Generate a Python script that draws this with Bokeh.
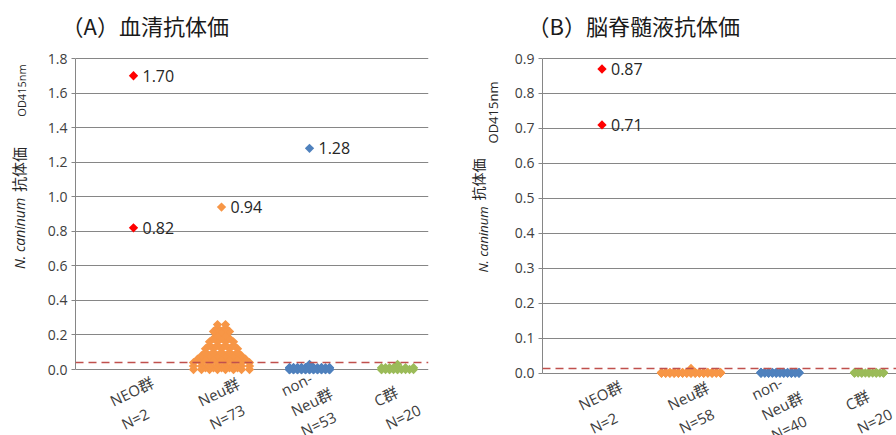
import math
from bokeh.plotting import figure
from bokeh.models import Range1d, FixedTicker, Span, Label, PrintfTickFormatter
from bokeh.layouts import row, column
from bokeh.embed import file_html
from bokeh.resources import INLINE
from bokeh.core.properties import value

# ---------------- data ----------------
serum_groups = ["NEO群\nN=2", "Neu群\nN=73", "non-\nNeu群\nN=53", "C群\nN=20"]
csf_groups = ["NEO群\nN=2", "Neu群\nN=58", "non-\nNeu群\nN=40", "C群\nN=20"]
group_colors = ["#FF0000", "#F79646", "#4F81BD", "#9BBB59"]

serum_neo = [1.70, 0.82]
serum_neu = [0.94,
             0.00, 0.00, 0.00, 0.00, 0.00, 0.00, 0.00, 0.00,
             0.01, 0.01, 0.01, 0.01, 0.01,
             0.02, 0.02, 0.02, 0.02, 0.02, 0.02, 0.02, 0.02,
             0.04, 0.04, 0.04, 0.04, 0.04, 0.04, 0.04, 0.04,
             0.06, 0.06, 0.06, 0.06, 0.06, 0.06, 0.06,
             0.08, 0.08, 0.08, 0.08, 0.08, 0.08,
             0.10, 0.10, 0.10, 0.10, 0.10,
             0.12, 0.12, 0.12, 0.12, 0.12,
             0.14, 0.14, 0.14, 0.14,
             0.16, 0.16, 0.16, 0.16,
             0.18, 0.18, 0.18,
             0.20, 0.20,
             0.22, 0.22, 0.22,
             0.24, 0.24,
             0.26, 0.26]
serum_nonneu = [1.28,
                0.00, 0.00, 0.00, 0.00, 0.00, 0.00, 0.00, 0.00,
                0.00, 0.00, 0.00, 0.00, 0.00, 0.00, 0.00, 0.00,
                0.00, 0.00, 0.00, 0.00, 0.00, 0.00, 0.00, 0.00,
                0.00, 0.00, 0.00, 0.00, 0.00, 0.00, 0.00, 0.00,
                0.01, 0.01, 0.01, 0.01, 0.01, 0.01, 0.01, 0.01, 0.01, 0.01,
                0.01, 0.01, 0.01, 0.01, 0.01, 0.01, 0.01, 0.01, 0.01,
                0.03]
serum_c = [0.00, 0.00, 0.00, 0.00, 0.00, 0.00, 0.00, 0.00, 0.00, 0.00, 0.00, 0.00,
           0.01, 0.01, 0.01, 0.01, 0.01, 0.01, 0.01,
           0.03]
serum_cutoff = 0.04
serum_ticks = [0.0, 0.2, 0.4, 0.6, 0.8, 1.0, 1.2, 1.4, 1.6, 1.8]

csf_neo = [0.87, 0.71]
csf_neu = [0.000, 0.000, 0.000, 0.000, 0.000, 0.000, 0.000, 0.000, 0.000, 0.000,
           0.000, 0.000, 0.000, 0.000, 0.000, 0.000, 0.000, 0.000, 0.000, 0.000,
           0.000, 0.000, 0.000, 0.000, 0.000, 0.000, 0.000, 0.000, 0.000, 0.000,
           0.000, 0.000, 0.000, 0.000, 0.000, 0.000, 0.000, 0.000, 0.000, 0.000,
           0.000, 0.000,
           0.002, 0.002, 0.002, 0.002, 0.002, 0.002, 0.002, 0.002, 0.002, 0.002,
           0.002, 0.002, 0.002, 0.002, 0.002,
           0.013]
csf_nonneu = [0.000, 0.000, 0.000, 0.000, 0.000, 0.000, 0.000, 0.000, 0.000, 0.000,
              0.000, 0.000, 0.000, 0.000, 0.000, 0.000, 0.000, 0.000, 0.000, 0.000,
              0.000, 0.000, 0.000, 0.000, 0.000, 0.000, 0.000, 0.000,
              0.002, 0.002, 0.002, 0.002, 0.002, 0.002, 0.002, 0.002, 0.002, 0.002,
              0.002, 0.002]
csf_c = [0.000, 0.000, 0.000, 0.000, 0.000, 0.000, 0.000, 0.000, 0.000, 0.000,
         0.000, 0.000, 0.000, 0.000,
         0.002, 0.002, 0.002, 0.002, 0.002, 0.002]
csf_cutoff = 0.013
csf_ticks = [0.0, 0.1, 0.2, 0.3, 0.4, 0.5, 0.6, 0.7, 0.8, 0.9]

# ---------------- styling ----------------
GRID = "#868686"
TXT = "#404040"
LATIN = "Open Sans"
MIXED = "'Open Sans', 'Noto Sans CJK JP'"
CJK = "Noto Sans CJK JP"
MARK_SIZE = 6.6          # side of the square, drawn rotated 45deg as a diamond
ROW_STEP = 8.0           # px between neighbouring markers of one row
LABEL_ANGLE = math.radians(26)
H = 435                  # page height
TITLE_H = 40             # height of the heading strip


def bare(width, height):
    """A figure used only as a drawing surface for free text."""
    f = figure(width=width, height=height, output_backend="svg", toolbar_location=None,
               x_range=Range1d(0, 1), y_range=Range1d(0, 1),
               x_axis_location=None, y_axis_location=None,
               min_border=0, min_border_left=0, min_border_right=0,
               min_border_top=0, min_border_bottom=0)
    f.outline_line_color = None
    f.xgrid.visible = False
    f.ygrid.visible = False
    return f


def row_offsets(vals, half_width):
    """Spread markers of equal value side by side (pixel offsets)."""
    ncols = int(round(2 * half_width / ROW_STEP)) + 1
    wide = 2 * half_width / (ncols - 1) if ncols > 1 else 0.0
    base = [(k - (ncols - 1) / 2) * wide for k in range(ncols)]
    mid = [(k - (ncols - 2) / 2) * wide for k in range(ncols - 1)]
    cycle = base + mid
    rows = {}
    for i, v in enumerate(vals):
        rows.setdefault(v, []).append(i)
    offs = [0.0] * len(vals)
    for v, idx in rows.items():
        n = len(idx)
        if n <= ncols:
            pos = [(k - (n - 1) / 2) * ROW_STEP for k in range(n)]
        else:
            pos = [cycle[k % len(cycle)] for k in range(n)]
        for j, i in enumerate(idx):
            offs[i] = pos[j]
    return offs


def panel(title, title_x, names, series, ticks, cutoff, zero_px, top_px,
          x_lo, x_hi, cap_w, main_w, b_left, b_right, spreads, ylab, ysizes, lab_xy):
    main_h = H - TITLE_H
    # y scale: ticks[0] sits at zero_px and ticks[-1] at top_px (page pixels)
    ky = (zero_px - top_px) / (ticks[-1] - ticks[0])
    y_hi = ticks[-1] + (top_px - TITLE_H) / ky
    y_lo = ticks[0] - (H - zero_px) / ky

    p = figure(width=main_w, height=main_h, output_backend="svg", toolbar_location=None,
               x_range=Range1d(x_lo, x_hi), y_range=Range1d(y_lo, y_hi),
               min_border_left=b_left, min_border_right=b_right,
               min_border_top=0, min_border_bottom=0,
               x_axis_location=None)
    p.outline_line_color = None
    p.xgrid.visible = False
    p.ygrid.ticker = FixedTicker(ticks=ticks)
    p.ygrid.grid_line_color = GRID
    p.ygrid.grid_line_width = 1

    ax = p.yaxis[0]
    ax.ticker = FixedTicker(ticks=ticks)
    ax.formatter = PrintfTickFormatter(format="%.1f")
    ax.bounds = (ticks[0], ticks[-1])
    ax.axis_line_color = GRID
    ax.major_tick_line_color = GRID
    ax.major_tick_out = 4
    ax.major_tick_in = 0
    ax.minor_tick_line_color = None
    ax.major_label_text_font = LATIN
    ax.major_label_text_font_size = "14px"
    ax.major_label_text_color = "#404040"
    ax.major_label_standoff = 4

    frame_w = main_w - b_left - b_right
    kx = frame_w / (x_hi - x_lo)

    for gi, (vals, color, half) in enumerate(zip(series, group_colors, spreads)):
        cx = gi + 1
        offs = row_offsets(vals, half)
        xs = [cx + o / kx for o in offs]
        p.scatter(xs, vals, marker="square", size=MARK_SIZE, angle=math.pi / 4,
                  fill_color=color, line_color=None)
        lx = [x for x, v in zip(xs, vals) if v >= 0.5]
        ly = [v for v in vals if v >= 0.5]
        if ly:
            p.text(lx, ly, text=["%.2f" % v for v in ly], x_offset=9,
                   text_align="left", text_baseline="middle",
                   text_font=value(LATIN), text_font_size="16px", text_color="#262626")

    p.add_layout(Span(location=cutoff, dimension="width", line_color="#C0504D",
                      line_dash="8 5", line_width=1.5))

    # rotated category captions (screen units measured from the frame's bottom-left)
    ox, oy = lab_xy
    for gi, name in enumerate(names):
        nl = name.count("\n") + 1
        lh = 19.5 if nl <= 2 else 17.0
        shift = (nl - 2) * lh / 2 + (nl - 2) * 3
        p.add_layout(Label(x=gi + 1, y=(H - oy) + shift * math.cos(LABEL_ANGLE),
                           x_units="data", y_units="screen",
                           x_offset=ox - shift * math.sin(LABEL_ANGLE),
                           text=name, angle=LABEL_ANGLE, text_font=MIXED,
                           text_font_size="15px", text_color=TXT,
                           text_line_height=lh / 15.0,
                           text_align="left", text_baseline="top"))

    # heading strip
    head = bare(cap_w + main_w, TITLE_H)
    head.add_layout(Label(x=title_x, y=TITLE_H - 24, x_units="screen", y_units="screen",
                          text=title, text_font=CJK, text_font_size="22px",
                          text_color="#1a1a1a", text_baseline="middle", text_align="left"))

    # y-axis caption strip, built from three differently styled pieces
    cap = bare(cap_w, main_h)
    for text, (xx, yy), font, size, style in zip(
            ["N. caninum", "抗体価", "OD415nm"], ylab,
            [LATIN, CJK, LATIN], ysizes, ["italic", "normal", "normal"]):
        cap.add_layout(Label(x=xx, y=H - yy, x_units="screen", y_units="screen",
                             text=text, angle=math.pi / 2, text_font=font, text_font_size=size,
                             text_font_style=style, text_color="#262626",
                             text_align="center", text_baseline="middle"))

    return column(head, row(cap, p))


pa = panel("（A）血清抗体価", 61, serum_groups,
           [serum_neo, serum_neu, serum_nonneu, serum_c], serum_ticks, serum_cutoff,
           zero_px=369, top_px=58, x_lo=0.341, x_hi=4.352,
           cap_w=40, main_w=408, b_left=35, b_right=20,
           spreads=[0, 28, 20, 16],
           ylab=[(19, 233), (18, 169), (21, 90)], ysizes=["14px", "15px", "11px"],
           lab_xy=(-27, 392))

pb = panel("（B）脳脊髄液抗体価", 79, csf_groups,
           [csf_neo, csf_neu, csf_nonneu, csf_c], csf_ticks, csf_cutoff,
           zero_px=372.5, top_px=58, x_lo=0.3315, x_hi=4.309,
           cap_w=52, main_w=396, b_left=42, b_right=0,
           spreads=[0, 29.5, 19, 14.5],
           ylab=[(482 - 448, 239), (477 - 448, 179), (492 - 448, 112)],
           ysizes=["13px", "14px", "13px"], lab_xy=(-27, 396))

layout = row(pa, pb)
open("out.html", "w").write(file_html(layout, INLINE))
